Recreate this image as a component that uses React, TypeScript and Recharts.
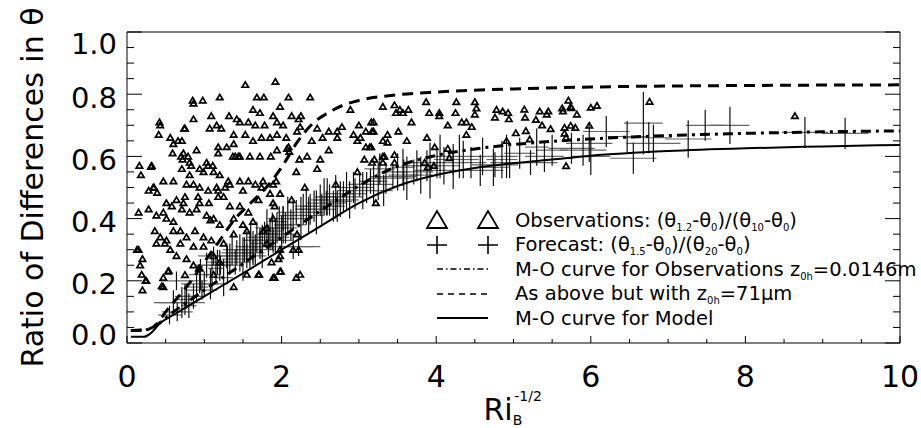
import React from "react";
import { ComposedChart, ErrorBar, Legend, Line, Scatter, XAxis, YAxis } from "recharts";

const FONT = "'DejaVu Sans', 'Liberation Sans', Arial, sans-serif";

const xTicks = [0, 0.5, 1, 1.5, 2, 2.5, 3, 3.5, 4, 4.5, 5, 5.5, 6, 6.5, 7, 7.5, 8, 8.5, 9, 9.5, 10];
const yTicks = [
  0, 0.05, 0.1, 0.15, 0.2, 0.25, 0.3, 0.35, 0.4, 0.45, 0.5, 0.55, 0.6, 0.65, 0.7, 0.75, 0.8, 0.85, 0.9, 0.95, 1,
];

// observations (theta1.2-theta0)/(theta10-theta0)
const obsLow: [number, number][] = [
  [0.16, 0.57], [0.18, 0.54], [0.32, 0.57], [0.15, 0.3], [0.2, 0.27], [0.19, 0.22], [0.24, 0.2], [0.2, 0.17],
  [0.15, 0.42], [0.28, 0.43], [0.28, 0.49], [0.35, 0.5], [0.43, 0.7], [0.41, 0.67], [0.56, 0.66], [0.47, 0.52],
  [0.6, 0.52], [0.66, 0.65], [0.71, 0.65], [0.75, 0.69], [0.85, 0.78], [0.86, 0.77], [0.98, 0.78], [0.86, 0.72],
  [1.09, 0.73], [1.2, 0.79], [1.53, 0.83], [1.68, 0.79], [1.77, 0.79], [1.92, 0.84], [2.09, 0.79], [1.63, 0.75],
  [1.72, 0.74], [1.98, 0.76], [1.89, 0.73], [2.13, 0.73], [1.32, 0.73], [1.42, 0.72], [1.46, 0.71], [1.57, 0.71],
  [1.66, 0.7], [1.78, 0.7], [1.94, 0.71], [2.02, 0.7], [2.22, 0.72], [1.22, 0.69], [1.16, 0.7], [1.38, 0.67],
  [1.53, 0.67], [1.63, 0.65], [1.74, 0.66], [1.85, 0.66], [1.94, 0.67], [2.06, 0.66], [0.6, 0.64], [0.73, 0.61],
  [0.72, 0.59], [0.79, 0.6], [0.81, 0.58], [0.9, 0.62], [1.03, 0.58], [1.05, 0.57], [1.18, 0.63], [1.18, 0.61],
  [1.29, 0.63], [1.4, 0.6], [1.46, 0.6], [1.59, 0.6], [1.72, 0.6], [1.86, 0.6], [1.94, 0.62], [2.09, 0.63],
  [1.38, 0.64], [0.99, 0.55], [1.12, 0.55], [1.2, 0.54], [1.31, 0.52], [1.46, 0.52], [1.57, 0.52], [1.76, 0.52],
  [1.89, 0.51], [0.71, 0.56], [0.81, 0.54], [0.94, 0.56], [0.86, 0.51], [0.77, 0.51], [0.94, 0.5], [1.05, 0.49],
  [1.16, 0.5], [1.18, 0.49], [1.27, 0.5], [1.33, 0.51], [1.5, 0.49], [1.66, 0.51], [1.74, 0.5], [1.85, 0.48],
  [0.51, 0.45], [0.58, 0.44], [0.64, 0.46], [0.73, 0.45], [0.75, 0.47], [0.94, 0.45], [1.06, 0.45], [1.18, 0.47],
  [1.33, 0.44], [1.46, 0.44], [1.57, 0.42], [1.7, 0.46], [1.89, 0.45], [1.98, 0.48], [0.38, 0.41], [0.47, 0.42],
  [0.51, 0.4], [0.6, 0.39], [0.71, 0.43], [0.81, 0.42], [0.9, 0.43], [1.03, 0.41], [1.12, 0.4], [1.2, 0.38],
  [1.38, 0.4], [1.5, 0.38], [1.63, 0.39], [1.76, 0.36], [0.36, 0.36], [0.43, 0.34], [0.51, 0.33], [0.6, 0.36],
  [0.69, 0.36], [0.77, 0.34], [0.88, 0.36], [0.99, 0.34], [1.09, 0.33], [1.38, 0.35], [1.55, 0.36], [0.38, 0.32],
  [0.49, 0.32], [0.56, 0.3], [0.69, 0.32], [0.86, 0.31], [0.99, 0.31], [1.12, 0.28], [1.25, 0.32], [1.81, 0.32],
  [1.98, 0.3], [0.47, 0.21], [0.53, 0.23], [0.47, 0.18], [0.64, 0.28], [0.77, 0.27], [0.86, 0.25], [0.94, 0.24],
  [1.12, 0.22], [1.2, 0.26], [1.38, 0.18], [1.55, 0.22], [1.7, 0.22], [1.89, 0.21], [1.98, 0.23], [2.15, 0.3],
  [2.19, 0.21], [0.42, 0.71], [0.74, 0.69], [1.07, 0.69], [0.59, 0.61], [0.7, 0.6], [0.83, 0.57], [1.11, 0.57],
  [1.37, 0.6], [1.44, 0.6], [0.31, 0.567], [0.34, 0.5], [0.39, 0.483], [0.92, 0.47], [1.25, 0.47], [0.13, 0.3],
  [0.17, 0.25], [0.25, 0.2], [0.45, 0.183], [0.54, 0.232], [0.75, 0.219], [0.93, 0.24], [1.08, 0.395],
];

const obsMid: [number, number][] = [
  [2.37, 0.79], [2.25, 0.73], [2.89, 0.75], [2.2, 0.68], [2.24, 0.695], [2.46, 0.69], [2.61, 0.68], [2.72, 0.68],
  [2.78, 0.695], [2.53, 0.66], [2.72, 0.66], [2.39, 0.65], [2.93, 0.67], [3.0, 0.7], [2.98, 0.65], [3.02, 0.66],
  [3.09, 0.68], [3.19, 0.68], [3.19, 0.71], [3.09, 0.63], [3.16, 0.63], [2.07, 0.625], [2.1, 0.615], [2.61, 0.62],
  [2.23, 0.59], [2.33, 0.6], [2.5, 0.59], [3.07, 0.59], [3.2, 0.59], [2.19, 0.55], [2.46, 0.56], [2.98, 0.55],
  [1.93, 0.52], [2.3, 0.5], [2.13, 0.46], [2.7, 0.51], [3.22, 0.45], [1.91, 0.44], [1.89, 0.4], [1.81, 0.37],
  [2.2, 0.35], [2.22, 0.3], [1.98, 0.28], [1.96, 0.27], [1.87, 0.26], [1.99, 0.23], [1.71, 0.22], [1.91, 0.21],
  [2.24, 0.22],
];

const obsHigh: [number, number][] = [
  [3.31, 0.76], [3.46, 0.765], [3.48, 0.74], [3.53, 0.75], [3.57, 0.74], [3.64, 0.75], [3.87, 0.775], [4.26, 0.775],
  [4.5, 0.775], [3.91, 0.74], [4.04, 0.74], [4.04, 0.73], [4.25, 0.74], [4.52, 0.755], [4.5, 0.735], [4.78, 0.75],
  [4.86, 0.745], [4.93, 0.74], [4.76, 0.725], [4.94, 0.72], [3.68, 0.71], [4.15, 0.7], [4.33, 0.71], [4.39, 0.71],
  [4.46, 0.695], [3.16, 0.71], [3.17, 0.68], [3.37, 0.67], [3.51, 0.68], [4.39, 0.67], [5.03, 0.675], [3.31, 0.65],
  [3.37, 0.645], [3.62, 0.65], [3.88, 0.66], [4.91, 0.65], [3.14, 0.63], [3.98, 0.63], [4.15, 0.625], [3.31, 0.6],
  [3.33, 0.6], [3.46, 0.605], [4.17, 0.595], [3.17, 0.58], [3.31, 0.58], [3.46, 0.58], [3.85, 0.58], [3.97, 0.57],
  [3.89, 0.565], [5.15, 0.725], [5.14, 0.751], [5.34, 0.745], [5.45, 0.745], [5.43, 0.735], [5.63, 0.755],
  [5.64, 0.745], [5.75, 0.756], [5.74, 0.76], [5.82, 0.735], [5.71, 0.78], [6.0, 0.757], [6.08, 0.763],
  [5.29, 0.718], [5.37, 0.7], [5.48, 0.688], [5.66, 0.692], [5.74, 0.699], [5.8, 0.692], [5.98, 0.699],
  [5.16, 0.682], [5.21, 0.655], [5.68, 0.66], [5.66, 0.674], [5.68, 0.569], [6.76, 0.776], [8.64, 0.73],
];

// forecast (theta1.5-theta0)/(theta20-theta0): centre and half-lengths of the bars
const forecastLow = [
  { x: 0.55, y: 0.09, ex: 0.15, ey: 0.03 }, { x: 0.6, y: 0.13, ex: 0.25, ey: 0.04 },
  { x: 0.65, y: 0.1, ex: 0.2, ey: 0.03 }, { x: 0.71, y: 0.13, ex: 0.3, ey: 0.05 },
  { x: 0.64, y: 0.2, ex: 0.22, ey: 0.03 }, { x: 0.75, y: 0.14, ex: 0.12, ey: 0.05 },
  { x: 0.77, y: 0.15, ex: 0.15, ey: 0.04 }, { x: 0.8, y: 0.12, ex: 0.1, ey: 0.04 },
  { x: 0.86, y: 0.15, ex: 0.12, ey: 0.04 }, { x: 0.9, y: 0.18, ex: 0.15, ey: 0.05 },
  { x: 0.94, y: 0.2, ex: 0.1, ey: 0.04 }, { x: 0.95, y: 0.22, ex: 0.15, ey: 0.05 },
  { x: 0.97, y: 0.17, ex: 0.2, ey: 0.03 }, { x: 1.0, y: 0.19, ex: 0.3, ey: 0.04 },
  { x: 1.03, y: 0.25, ex: 0.15, ey: 0.04 }, { x: 1.08, y: 0.19, ex: 0.1, ey: 0.05 },
  { x: 1.1, y: 0.22, ex: 0.1, ey: 0.05 }, { x: 1.12, y: 0.28, ex: 0.2, ey: 0.03 },
  { x: 1.15, y: 0.24, ex: 0.1, ey: 0.04 }, { x: 1.17, y: 0.26, ex: 0.15, ey: 0.04 },
  { x: 1.2, y: 0.25, ex: 0.15, ey: 0.05 }, { x: 1.21, y: 0.25, ex: 0.25, ey: 0.03 },
  { x: 1.25, y: 0.21, ex: 0.12, ey: 0.06 }, { x: 1.29, y: 0.28, ex: 0.18, ey: 0.04 },
  { x: 1.3, y: 0.25, ex: 0.08, ey: 0.06 }, { x: 1.33, y: 0.27, ex: 0.1, ey: 0.05 },
  { x: 1.36, y: 0.3, ex: 0.12, ey: 0.05 }, { x: 1.4, y: 0.26, ex: 0.2, ey: 0.04 },
  { x: 1.42, y: 0.29, ex: 0.2, ey: 0.04 }, { x: 1.46, y: 0.29, ex: 0.12, ey: 0.06 },
  { x: 1.5, y: 0.27, ex: 0.1, ey: 0.07 }, { x: 1.52, y: 0.3, ex: 0.15, ey: 0.04 },
  { x: 1.55, y: 0.31, ex: 0.15, ey: 0.05 }, { x: 1.55, y: 0.28, ex: 0.25, ey: 0.04 },
  { x: 1.59, y: 0.3, ex: 0.1, ey: 0.06 }, { x: 1.6, y: 0.33, ex: 0.1, ey: 0.06 },
  { x: 1.63, y: 0.31, ex: 0.2, ey: 0.05 }, { x: 1.63, y: 0.29, ex: 0.15, ey: 0.04 },
  { x: 1.66, y: 0.3, ex: 0.25, ey: 0.05 }, { x: 1.68, y: 0.34, ex: 0.12, ey: 0.05 },
  { x: 1.72, y: 0.32, ex: 0.12, ey: 0.05 }, { x: 1.72, y: 0.33, ex: 0.2, ey: 0.03 },
  { x: 1.75, y: 0.31, ex: 0.15, ey: 0.07 }, { x: 1.78, y: 0.35, ex: 0.1, ey: 0.04 },
  { x: 1.81, y: 0.37, ex: 0.15, ey: 0.06 }, { x: 1.83, y: 0.33, ex: 0.2, ey: 0.05 },
  { x: 1.85, y: 0.35, ex: 0.1, ey: 0.05 }, { x: 1.88, y: 0.36, ex: 0.12, ey: 0.06 },
  { x: 1.89, y: 0.33, ex: 0.25, ey: 0.04 }, { x: 1.92, y: 0.34, ex: 0.18, ey: 0.05 },
  { x: 1.94, y: 0.37, ex: 0.15, ey: 0.05 }, { x: 1.97, y: 0.39, ex: 0.1, ey: 0.05 },
  { x: 2.0, y: 0.35, ex: 0.22, ey: 0.06 },
];

const forecastHigh = [
  { x: 2.02, y: 0.4, ex: 0.2, ey: 0.04 }, { x: 2.02, y: 0.38, ex: 0.12, ey: 0.06 },
  { x: 2.05, y: 0.37, ex: 0.15, ey: 0.05 }, { x: 2.08, y: 0.41, ex: 0.1, ey: 0.06 },
  { x: 2.12, y: 0.38, ex: 0.2, ey: 0.05 }, { x: 2.15, y: 0.41, ex: 0.18, ey: 0.05 },
  { x: 2.15, y: 0.31, ex: 0.35, ey: 0.04 }, { x: 2.22, y: 0.31, ex: 0.2, ey: 0.03 },
  { x: 2.19, y: 0.42, ex: 0.25, ey: 0.04 }, { x: 2.25, y: 0.4, ex: 0.15, ey: 0.07 },
  { x: 2.28, y: 0.43, ex: 0.1, ey: 0.05 }, { x: 2.32, y: 0.44, ex: 0.15, ey: 0.06 },
  { x: 2.35, y: 0.41, ex: 0.2, ey: 0.06 }, { x: 2.37, y: 0.43, ex: 0.2, ey: 0.05 },
  { x: 2.42, y: 0.44, ex: 0.15, ey: 0.05 }, { x: 2.45, y: 0.42, ex: 0.1, ey: 0.07 },
  { x: 2.5, y: 0.46, ex: 0.12, ey: 0.05 }, { x: 2.52, y: 0.43, ex: 0.18, ey: 0.05 },
  { x: 2.55, y: 0.47, ex: 0.12, ey: 0.06 }, { x: 2.58, y: 0.45, ex: 0.25, ey: 0.04 },
  { x: 2.59, y: 0.47, ex: 0.15, ey: 0.06 }, { x: 2.62, y: 0.46, ex: 0.2, ey: 0.05 },
  { x: 2.67, y: 0.44, ex: 0.1, ey: 0.05 }, { x: 2.7, y: 0.47, ex: 0.15, ey: 0.07 },
  { x: 2.72, y: 0.44, ex: 0.1, ey: 0.05 }, { x: 2.76, y: 0.48, ex: 0.2, ey: 0.04 },
  { x: 2.76, y: 0.455, ex: 0.15, ey: 0.05 }, { x: 2.8, y: 0.47, ex: 0.25, ey: 0.05 },
  { x: 2.84, y: 0.49, ex: 0.12, ey: 0.06 }, { x: 2.88, y: 0.46, ex: 0.12, ey: 0.06 },
  { x: 2.93, y: 0.5, ex: 0.2, ey: 0.05 }, { x: 2.95, y: 0.48, ex: 0.15, ey: 0.05 },
  { x: 3.01, y: 0.51, ex: 0.15, ey: 0.04 }, { x: 3.05, y: 0.49, ex: 0.2, ey: 0.06 },
  { x: 3.1, y: 0.5, ex: 0.1, ey: 0.05 }, { x: 3.15, y: 0.52, ex: 0.15, ey: 0.04 },
  { x: 3.19, y: 0.51, ex: 0.25, ey: 0.06 }, { x: 3.25, y: 0.52, ex: 0.12, ey: 0.06 },
  { x: 3.27, y: 0.56, ex: 0.2, ey: 0.05 }, { x: 3.32, y: 0.49, ex: 0.12, ey: 0.05 },
  { x: 3.35, y: 0.53, ex: 0.2, ey: 0.05 }, { x: 3.44, y: 0.535, ex: 0.3, ey: 0.04 },
  { x: 3.5, y: 0.55, ex: 0.15, ey: 0.06 }, { x: 3.57, y: 0.565, ex: 0.15, ey: 0.06 },
  { x: 3.58, y: 0.54, ex: 0.2, ey: 0.05 }, { x: 3.62, y: 0.53, ex: 0.1, ey: 0.07 },
  { x: 3.71, y: 0.55, ex: 0.25, ey: 0.04 }, { x: 3.75, y: 0.57, ex: 0.2, ey: 0.05 },
  { x: 3.8, y: 0.54, ex: 0.15, ey: 0.06 }, { x: 3.88, y: 0.57, ex: 0.15, ey: 0.05 },
  { x: 3.92, y: 0.555, ex: 0.2, ey: 0.09 }, { x: 4.01, y: 0.58, ex: 0.3, ey: 0.05 },
  { x: 4.05, y: 0.6, ex: 0.1, ey: 0.07 }, { x: 4.1, y: 0.57, ex: 0.2, ey: 0.06 },
  { x: 4.22, y: 0.59, ex: 0.25, ey: 0.05 }, { x: 4.22, y: 0.555, ex: 0.15, ey: 0.06 },
  { x: 4.3, y: 0.6, ex: 0.15, ey: 0.07 }, { x: 4.35, y: 0.59, ex: 0.2, ey: 0.06 },
  { x: 4.45, y: 0.58, ex: 0.2, ey: 0.05 }, { x: 4.57, y: 0.555, ex: 0.3, ey: 0.05 },
  { x: 4.6, y: 0.6, ex: 0.15, ey: 0.06 }, { x: 4.74, y: 0.565, ex: 0.2, ey: 0.06 },
  { x: 4.76, y: 0.573, ex: 0.3, ey: 0.04 }, { x: 4.85, y: 0.59, ex: 0.2, ey: 0.06 },
  { x: 4.91, y: 0.6, ex: 0.15, ey: 0.07 }, { x: 4.95, y: 0.58, ex: 0.25, ey: 0.05 },
  { x: 5.08, y: 0.61, ex: 0.2, ey: 0.05 }, { x: 5.22, y: 0.58, ex: 0.35, ey: 0.04 },
  { x: 5.3, y: 0.63, ex: 0.15, ey: 0.06 }, { x: 5.4, y: 0.6, ex: 0.25, ey: 0.05 },
  { x: 5.5, y: 0.62, ex: 0.2, ey: 0.05 }, { x: 5.75, y: 0.626, ex: 0.3, ey: 0.05 },
  { x: 5.9, y: 0.62, ex: 0.3, ey: 0.05 }, { x: 5.98, y: 0.642, ex: 0.3, ey: 0.06 },
  { x: 6.0, y: 0.6, ex: 0.25, ey: 0.06 }, { x: 6.2, y: 0.68, ex: 0.3, ey: 0.05 },
  { x: 6.47, y: 0.664, ex: 0.25, ey: 0.05 }, { x: 6.55, y: 0.594, ex: 0.3, ey: 0.05 },
  { x: 6.68, y: 0.707, ex: 0.25, ey: 0.1 }, { x: 6.81, y: 0.642, ex: 0.35, ey: 0.06 },
  { x: 6.75, y: 0.66, ex: 0.3, ey: 0.05 }, { x: 7.26, y: 0.656, ex: 0.3, ey: 0.06 },
  { x: 7.48, y: 0.7, ex: 0.25, ey: 0.05 }, { x: 7.8, y: 0.7, ex: 0.25, ey: 0.06 },
  { x: 8.77, y: 0.677, ex: 0.3, ey: 0.05 }, { x: 9.29, y: 0.674, ex: 0.3, ey: 0.05 },
];

// M-O curves
const moObs = [
  { x: 0.05, y: 0.04 }, { x: 0.25, y: 0.043 }, { x: 0.35, y: 0.05 }, { x: 0.45, y: 0.07 }, { x: 0.6, y: 0.1 },
  { x: 0.8, y: 0.135 }, { x: 1, y: 0.17 }, { x: 1.5, y: 0.255 }, { x: 2, y: 0.34 }, { x: 2.5, y: 0.425 },
  { x: 3, y: 0.505 }, { x: 3.25, y: 0.54 }, { x: 3.5, y: 0.568 }, { x: 4, y: 0.603 }, { x: 4.5, y: 0.624 },
  { x: 5, y: 0.638 }, { x: 6, y: 0.656 }, { x: 7, y: 0.667 }, { x: 8, y: 0.674 }, { x: 9, y: 0.679 }, { x: 10, y: 0.682 },
];
const moObs71 = [
  { x: 0.05, y: 0.04 }, { x: 0.25, y: 0.043 }, { x: 0.4, y: 0.065 }, { x: 0.5, y: 0.1 }, { x: 0.6, y: 0.13 },
  { x: 0.8, y: 0.19 }, { x: 1, y: 0.26 }, { x: 1.2, y: 0.33 }, { x: 1.4, y: 0.4 }, { x: 1.6, y: 0.45 },
  { x: 1.8, y: 0.5 }, { x: 2, y: 0.565 }, { x: 2.2, y: 0.645 }, { x: 2.4, y: 0.705 }, { x: 2.6, y: 0.74 },
  { x: 2.8, y: 0.765 }, { x: 3, y: 0.78 }, { x: 3.5, y: 0.798 }, { x: 4, y: 0.807 }, { x: 5, y: 0.817 },
  { x: 6, y: 0.823 }, { x: 8, y: 0.828 }, { x: 10, y: 0.83 },
];
const moModel = [
  { x: 0.05, y: 0.02 }, { x: 0.22, y: 0.02 }, { x: 0.3, y: 0.03 }, { x: 0.43, y: 0.064 }, { x: 0.6, y: 0.09 },
  { x: 0.8, y: 0.12 }, { x: 1, y: 0.15 }, { x: 1.5, y: 0.224 }, { x: 2, y: 0.3 }, { x: 2.5, y: 0.375 },
  { x: 3, y: 0.45 }, { x: 3.5, y: 0.505 }, { x: 4, y: 0.54 }, { x: 4.5, y: 0.563 }, { x: 5, y: 0.578 },
  { x: 5.5, y: 0.59 }, { x: 6, y: 0.602 }, { x: 7, y: 0.617 }, { x: 8, y: 0.626 }, { x: 9, y: 0.632 }, { x: 10, y: 0.637 },
];

const observations = [...obsLow, ...obsMid, ...obsHigh].map(([x, y]) => ({ x, y }));
const forecast = [...forecastLow, ...forecastHigh];

const isMajor = (v: number, step: number) => Math.abs(v / step - Math.round(v / step)) < 1e-6;

function Triangle(props: any) {
  const { cx, cy } = props;
  if (cx == null || cy == null) return <g />;
  return (
    <polygon
      points={`${cx},${cy - 3} ${cx - 3.2},${cy + 2.4} ${cx + 3.2},${cy + 2.4}`}
      fill="none"
      stroke="#000"
      strokeWidth={1.7}
    />
  );
}

function BottomTick({ x, y, payload }: any) {
  const major = isMajor(payload.value, 2);
  return (
    <g>
      <line x1={x} x2={x} y1={y} y2={y - (major ? 7 : 4)} stroke="#000" />
      {major && (
        <text x={x} y={y + 44} textAnchor="middle" fontSize={30} fontFamily={FONT} fill="#000">
          {payload.value}
        </text>
      )}
    </g>
  );
}

function TopTick({ x, y, payload }: any) {
  const major = isMajor(payload.value, 2);
  return <line x1={x} x2={x} y1={y} y2={y + (major ? 7 : 4)} stroke="#000" />;
}

function LeftTick({ x, y, payload }: any) {
  const v = payload.value;
  const major = isMajor(v, 0.2);
  const shift = v > 0.99 ? 11 : v < 0.01 ? -9 : 3;
  return (
    <g>
      <line x1={x} x2={x + (major ? 15 : 7)} y1={y} y2={y} stroke="#000" />
      {major && (
        <text x={x - 10} y={y + shift + 10.5} textAnchor="end" fontSize={29} fontFamily={FONT} fill="#000">
          {v.toFixed(1)}
        </text>
      )}
    </g>
  );
}

function RightTick({ x, y, payload }: any) {
  const major = isMajor(payload.value, 0.2);
  return <line x1={x} x2={x - (major ? 15 : 7)} y1={y} y2={y} stroke="#000" />;
}

const sub = { fontSize: 10, verticalAlign: "-4px", lineHeight: 0 } as const;
const icon = { flexShrink: 0 } as const;

function LegendBox() {
  const row = { display: "flex", alignItems: "center", height: 24.5 } as const;
  return (
    <div style={{ fontFamily: FONT, fontSize: 19.5, color: "#000", whiteSpace: "nowrap" }}>
      <div style={row}>
        <svg width={95} height={24} style={icon}>
          <polygon points="17,3 7,20 27,20" fill="none" stroke="#000" strokeWidth={1.8} />
          <polygon points="68,3 58,20 78,20" fill="none" stroke="#000" strokeWidth={1.8} />
        </svg>
        <span>
          Observations: (θ<span style={sub}>1.2</span>-θ<span style={sub}>0</span>)/(θ<span style={sub}>10</span>-θ
          <span style={sub}>0</span>)
        </span>
      </div>
      <div style={row}>
        <svg width={95} height={24} style={icon}>
          <path d="M7,12H27M17,3V21M58,12H78M68,3V21" stroke="#000" strokeWidth={1.6} />
        </svg>
        <span>
          Forecast: (θ<span style={sub}>1.5</span>-θ<span style={sub}>0</span>)/(θ<span style={sub}>20</span>-θ
          <span style={sub}>0</span>)
        </span>
      </div>
      <div style={row}>
        <svg width={95} height={24} style={icon}>
          <line x1={17} x2={70} y1={12} y2={12} stroke="#000" strokeWidth={1.6} strokeDasharray="6 3 1.5 3" />
        </svg>
        <span>
          M-O curve for Observations z<span style={sub}>0h</span>=0.0146m
        </span>
      </div>
      <div style={row}>
        <svg width={95} height={24} style={icon}>
          <line x1={17} x2={70} y1={12} y2={12} stroke="#000" strokeWidth={1.6} strokeDasharray="6 5" />
        </svg>
        <span>
          As above but with z<span style={sub}>0h</span>=71μm
        </span>
      </div>
      <div style={row}>
        <svg width={95} height={24} style={icon}>
          <line x1={17} x2={68} y1={12} y2={12} stroke="#000" strokeWidth={2.2} />
        </svg>
        <span>M-O curve for Model</span>
      </div>
    </div>
  );
}

function YTitle({ viewBox }: any) {
  const cx = viewBox.x + 25;
  const cy = viewBox.y + viewBox.height / 2;
  return (
    <text
      x={cx}
      y={cy}
      transform={`rotate(-90, ${cx}, ${cy})`}
      textAnchor="middle"
      dominantBaseline="central"
      fontSize={30}
      fontFamily={FONT}
      fill="#000"
    >
      Ratio of Differences in θ
    </text>
  );
}

function XTitle({ viewBox }: any) {
  const cx = viewBox.x + viewBox.width / 2;
  const base = viewBox.y + 77;
  return (
    <text x={cx - 30} y={base} fontFamily={FONT} fill="#000">
      <tspan fontSize={30}>Ri</tspan>
      <tspan fontSize={14} dy={5}>B</tspan>
      <tspan fontSize={14} dx={-8} dy={-24}>-1/2</tspan>
    </text>
  );
}

export default function App() {
  return (
    <div style={{ position: "absolute", left: 0, top: 0, width: 921, height: 428, background: "#fff" }}>
      <ComposedChart width={921} height={428} margin={{ top: 31, right: 20, bottom: 25, left: 7 }}>
        <XAxis
          xAxisId="b"
          dataKey="x"
          type="number"
          domain={[0, 10]}
          ticks={xTicks}
          interval={0}
          allowDataOverflow
          height={60}
          tickSize={0}
          tickMargin={0}
          tickLine={false}
          axisLine={{ stroke: "#000" }}
          tick={<BottomTick />}
          label={{ content: <XTitle /> }}
        />
        <XAxis
          xAxisId="t"
          orientation="top"
          type="number"
          domain={[0, 10]}
          ticks={xTicks}
          interval={0}
          allowDataOverflow
          height={1}
          tickSize={0}
          tickMargin={0}
          tickLine={false}
          axisLine={{ stroke: "#000" }}
          tick={<TopTick />}
        />
        <YAxis
          yAxisId="l"
          type="number"
          domain={[0, 1]}
          ticks={yTicks}
          interval={0}
          allowDataOverflow
          width={120}
          tickSize={0}
          tickMargin={0}
          tickLine={false}
          axisLine={{ stroke: "#000" }}
          tick={<LeftTick />}
          label={{ content: <YTitle /> }}
        />
        <YAxis
          yAxisId="r"
          orientation="right"
          type="number"
          domain={[0, 1]}
          ticks={yTicks}
          interval={0}
          allowDataOverflow
          width={1}
          tickSize={0}
          tickMargin={0}
          tickLine={false}
          axisLine={{ stroke: "#000" }}
          tick={<RightTick />}
        />
        <Scatter
          name="Forecast"
          data={forecast}
          dataKey="y"
          xAxisId="b"
          yAxisId="l"
          shape={() => <g />}
          isAnimationActive={false}
        >
          <ErrorBar dataKey="ex" direction="x" width={0} stroke="#666" strokeWidth={1.2} />
          <ErrorBar dataKey="ey" direction="y" width={0} stroke="#111" strokeWidth={1.2} />
        </Scatter>
        <Scatter
          name="Observations"
          data={observations}
          dataKey="y"
          xAxisId="b"
          yAxisId="l"
          shape={<Triangle />}
          isAnimationActive={false}
        />
        <Line
          data={moModel}
          dataKey="y"
          xAxisId="b"
          yAxisId="l"
          type="monotone"
          stroke="#000"
          strokeWidth={2}
          dot={false}
          isAnimationActive={false}
        />
        <Line
          data={moObs}
          dataKey="y"
          xAxisId="b"
          yAxisId="l"
          type="monotone"
          stroke="#000"
          strokeWidth={3}
          strokeDasharray="10 5 3 5"
          dot={false}
          isAnimationActive={false}
        />
        <Line
          data={moObs71}
          dataKey="y"
          xAxisId="b"
          yAxisId="l"
          type="monotone"
          stroke="#000"
          strokeWidth={3}
          strokeDasharray="11 7"
          dot={false}
          isAnimationActive={false}
        />
        <Legend
          layout="horizontal"
          verticalAlign="middle"
          align="center"
          content={<LegendBox />}
          wrapperStyle={{ position: "absolute", left: 420, top: 208, width: 500 }}
        />
      </ComposedChart>
    </div>
  );
}
